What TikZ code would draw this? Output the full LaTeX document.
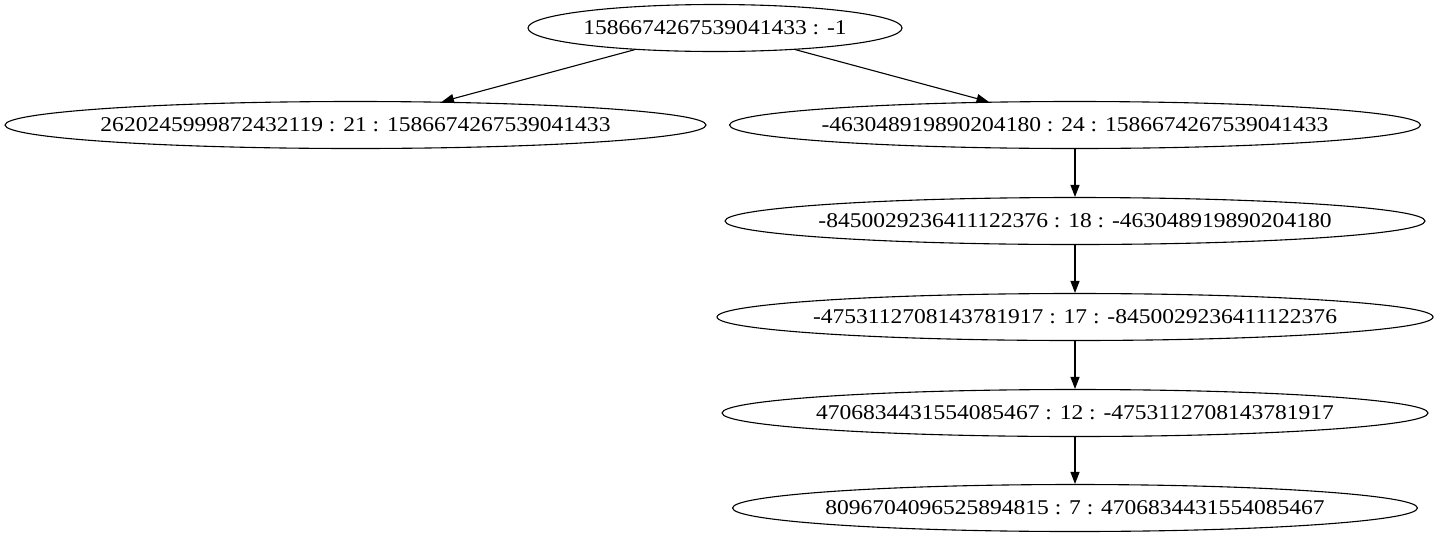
\documentclass[tikz,border=0pt]{standalone}
\usepackage{fontspec}
\setmainfont{Liberation Serif}[FakeStretch=1.12]
\usetikzlibrary{shapes.geometric,arrows.meta}
\tikzset{
  gnode/.style={draw, ellipse, line width=1.1pt, inner sep=0pt, minimum height=47pt,
    font=\fontsize{21}{24}\selectfont},
  gedge/.style={line width=1.1pt, -{Triangle[length=12pt,width=9pt]}}
}
\newcommand{\lbl}[1]{\makebox[0pt]{#1}}
\begin{document}
\begin{tikzpicture}[x=1pt,y=-1pt]
\useasboundingbox (0,0) rectangle (1439,539);
\node[gnode, minimum width=374pt] (r) at (715,28) {\lbl{1586674267539041433 : -1}};
\node[gnode, minimum width=701pt] (a) at (355.5,125) {\lbl{2620245999872432119 : 21 : 1586674267539041433}};
\node[gnode, minimum width=691pt] (b) at (1075,125) {\lbl{-463048919890204180 : 24 : 1586674267539041433}};
\node[gnode, minimum width=700pt] (c) at (1075,221) {\lbl{-8450029236411122376 : 18 : -463048919890204180}};
\node[gnode, minimum width=716pt] (d) at (1075,317) {\lbl{-4753112708143781917 : 17 : -8450029236411122376}};
\node[gnode, minimum width=706pt] (e) at (1075,413) {\lbl{4706834431554085467 : 12 : -4753112708143781917}};
\node[gnode, minimum width=685pt] (f) at (1075,508) {\lbl{8096704096525894815 : 7 : 4706834431554085467}};
\draw[gedge] (r) -- (a);
\draw[gedge] (r) -- (b);
\draw[gedge] (b) -- (c);
\draw[gedge] (c) -- (d);
\draw[gedge] (d) -- (e);
\draw[gedge] (e) -- (f);
\end{tikzpicture}
\end{document}
